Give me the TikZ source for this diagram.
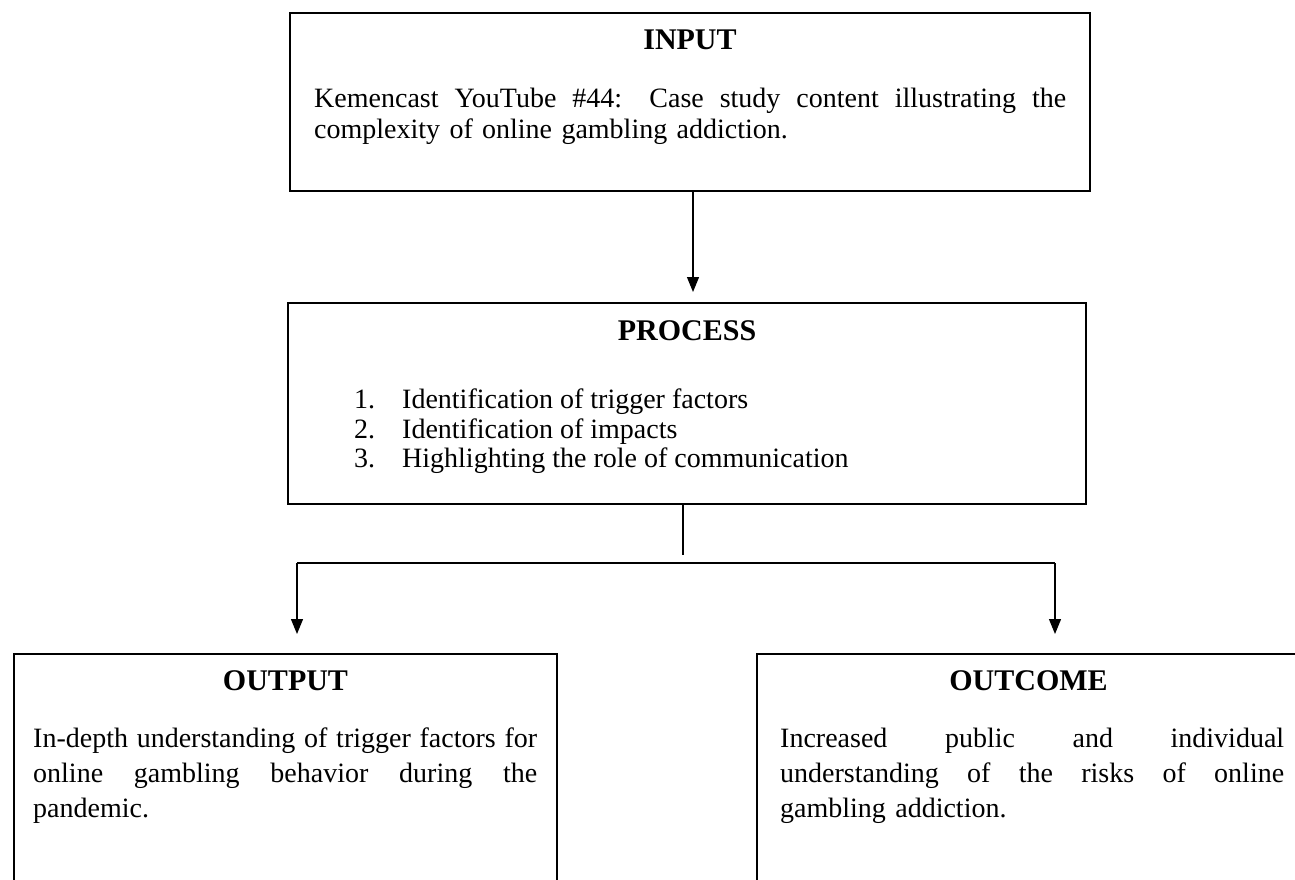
\documentclass[tikz,border=0pt]{standalone}
\usepackage{fontspec}
\setmainfont{Liberation Serif}
\usetikzlibrary{arrows.meta}
\newcommand\fullline[2]{{\spaceskip=0pt\xspaceskip=0pt\makebox[#1][s]{#2}}}
\begin{document}
\begin{tikzpicture}[x=1pt,y=-1pt,
  box/.style={draw=black, line width=1.3pt, inner sep=0pt, outer sep=0pt, anchor=north west},
  ttl/.style={font=\fontsize{30}{34}\selectfont\bfseries, anchor=base, inner sep=0pt},
  body/.style={font=\fontsize{28}{#1}\selectfont, anchor=base west, inner sep=0pt, align=left},
  item/.style={font=\fontsize{28}{30}\selectfont, anchor=base west, inner sep=0pt},
  ln/.style={line width=1.2pt},
  bar/.style={line width=1.8pt},
  arr/.style={ln, -{Triangle[length=15pt,width=12pt]}}]
\useasboundingbox (0,0) rectangle (1295,879);
\fill[white] (0,0) rectangle (1295,879);
\begin{scope}
\clip (0,0) rectangle (1295,879);
% boxes
\node[box, minimum width=800pt, minimum height=178pt] (input) at (290,13) {};
\node[box, minimum width=798pt, minimum height=201pt] (process) at (288,303) {};
\node[box, minimum width=543pt, minimum height=260pt] (output) at (14,654) {};
\node[box, minimum width=543pt, minimum height=260pt] (outcome) at (757,654) {};
% titles
\node[ttl] (tin) at (690,49) {INPUT};
\node[ttl] (tpr) at (687,340) {PROCESS};
\node[ttl] (tou) at (285.5,690) {OUTPUT};
\node[ttl] (toc) at (1028.5,690) {OUTCOME};
% texts
\node[body=31, text width=752pt] (xin) at (314,107) {\fullline{752pt}{Kemencast YouTube \#44: Case study content illustrating the}\\complexity of online gambling addiction.};
\node[item] (n1) at (354,408) {1.};
\node[item] (n2) at (354,438) {2.};
\node[item] (n3) at (354,467) {3.};
\node[item] (i1) at (402,408) {Identification of trigger factors};
\node[item] (i2) at (402,438) {Identification of impacts};
\node[item] (i3) at (402,467) {Highlighting the role of communication};
\node[body=35, text width=504pt] (xou) at (33,747) {\fullline{504pt}{In-depth understanding of trigger factors for}\\\fullline{504pt}{online gambling behavior during the}\\pandemic.};
\node[body=35, text width=504pt] (xoc) at (780,747) {\fullline{504pt}{Increased public and individual}\\\fullline{504pt}{understanding of the risks of online}\\gambling addiction.};
% connectors
\coordinate (split) at (683,555);
\coordinate (hl) at (297,563);
\coordinate (hr) at (1055,563);
\draw[arr, shorten >=11pt] ([xshift=3pt]input.south) -- ([xshift=6pt]process.north);
\draw[ln] ([xshift=-4pt]process.south) -- (split);
\draw[bar] (hl) -- (hr);
\draw[arr, shorten >=20pt] (hl) -- (hl |- output.north);
\draw[arr, shorten >=20pt] (hr) -- (hr |- outcome.north);
\end{scope}
\end{tikzpicture}
\end{document}
